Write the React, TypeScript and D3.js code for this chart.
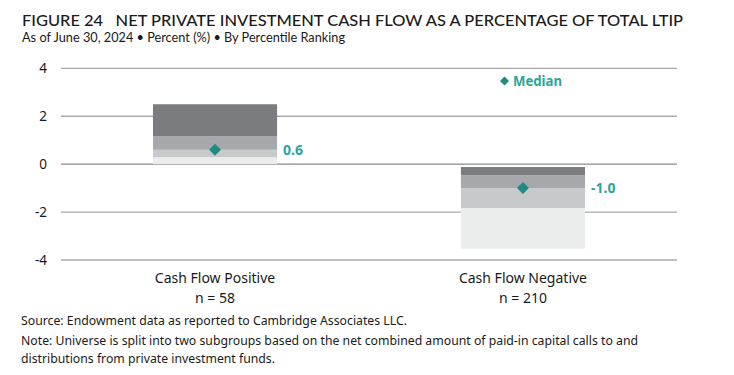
import React from "react";
import * as d3 from "d3";

const categories = ["Cash Flow Positive", "Cash Flow Negative"];
const nLabels = ["n = 58", "n = 210"];
const p5 = [0.0, -3.53];
const p25 = [0.29, -1.83];
const p50 = [0.6, -1.0];
const p75 = [1.17, -0.46];
const p95 = [2.5, -0.12];
const medianLabels = ["0.6", "-1.0"];
const yTicks = [4, 2, 0, -2, -4];

const title = "FIGURE 24\u00a0\u00a0 NET PRIVATE INVESTMENT CASH FLOW AS A PERCENTAGE OF TOTAL LTIP";
const subtitle = "As of June 30, 2024 • Percent (%) • By Percentile Ranking";
const source = "Source: Endowment data as reported to Cambridge Associates LLC.";
const note1 = "Note: Universe is split into two subgroups based on the net combined amount of paid-in capital calls to and";
const note2 = "distributions from private investment funds.";

const W = 734;
const H = 375;

const C_DARK = "#7b7c80";
const C_MID = "#a7a8ab";
const C_LIGHT = "#c8c9cb";
const C_LIGHTEST = "#ebecec";
const TEAL = "#1f8b82";
const TEAL_TEXT = "#2ba59c";

export default function App() {
  const x = d3
    .scaleBand<string>()
    .domain(categories)
    .range([61, 677])
    .paddingInner(0.597)
    .paddingOuter(0.2987);
  const y = d3.scaleLinear().domain([-4, 4]).range([260, 68.3]);
  const bw = x.bandwidth();

  const segs = categories.map((c, i) => [
    { lo: p5[i], hi: p25[i], color: C_LIGHTEST },
    { lo: p25[i], hi: p50[i], color: C_LIGHT },
    { lo: p50[i], hi: p75[i], color: C_MID },
    { lo: p75[i], hi: p95[i], color: C_DARK },
  ]);

  const diamond = (cx: number, cy: number, r: number) =>
    `M${cx},${cy - r}L${cx + r},${cy}L${cx},${cy + r}L${cx - r},${cy}Z`;

  const sans = "'Source Sans Pro', 'Noto Sans', Lato, sans-serif";

  return (
    <svg
      width={W}
      height={H}
      style={{ position: "absolute", left: 0, top: 0, background: "#fff" }}
    >
      <text
        x={22}
        y={25.5}
        fontFamily="Lato, sans-serif"
        fontWeight={500}
        fontSize={16}
        fill="#1a1a1a"
        textLength={661}
        lengthAdjust="spacingAndGlyphs"
      >
        {title}
      </text>
      <text
        x={22}
        y={41.5}
        fontFamily="Lato, sans-serif"
        fontSize={12.5}
        fill="#1a1a1a"
        textLength={323}
        lengthAdjust="spacingAndGlyphs"
      >
        {subtitle}
      </text>

      {yTicks.map((t) => (
        <g key={t}>
          <line
            x1={61}
            x2={677}
            y1={y(t)}
            y2={y(t)}
            stroke={t === 0 ? "#8a8a8a" : "#a9a9a9"}
            strokeWidth={1.3}
          />
          <text
            x={47}
            y={y(t) + 4.5}
            textAnchor="end"
            fontFamily={sans}
            fontSize={13.5}
            fill="#1a1a1a"
          >
            {t}
          </text>
        </g>
      ))}

      {categories.map((c, i) => (
        <g key={c}>
          {segs[i].map((s, j) => (
            <rect
              key={j}
              x={x(c)!}
              width={bw}
              y={y(s.hi)}
              height={y(s.lo) - y(s.hi)}
              fill={s.color}
            />
          ))}
          <path d={diamond(x(c)! + bw / 2, y(p50[i]), 6)} fill={TEAL} />
          <text
            x={x(c)! + bw + 6}
            y={y(p50[i]) + 5}
            fontFamily={sans}
            fontWeight={700}
            fontSize={14}
            fill={TEAL_TEXT}
          >
            {medianLabels[i]}
          </text>
          <text
            x={x(c)! + bw / 2}
            y={283}
            textAnchor="middle"
            fontFamily={sans}
            fontSize={14}
            fill="#1a1a1a"
          >
            {c}
          </text>
          <text
            x={x(c)! + bw / 2}
            y={302.5}
            textAnchor="middle"
            fontFamily={sans}
            fontSize={14}
            fill="#1a1a1a"
          >
            {nLabels[i]}
          </text>
        </g>
      ))}

      <path d={diamond(504.5, 81, 4.5)} fill={TEAL} />
      <text
        x={513}
        y={85.5}
        fontFamily={sans}
        fontWeight={700}
        fontSize={14}
        fill={TEAL_TEXT}
        textLength={49}
        lengthAdjust="spacingAndGlyphs"
      >
        Median
      </text>

      <text x={21} y={325} fontFamily={sans} fontSize={13} fill="#1a1a1a" textLength={386} lengthAdjust="spacingAndGlyphs">
        {source}
      </text>
      <text x={21} y={344.5} fontFamily={sans} fontSize={13} fill="#1a1a1a" textLength={617} lengthAdjust="spacingAndGlyphs">
        {note1}
      </text>
      <text x={21} y={363} fontFamily={sans} fontSize={13} fill="#1a1a1a" textLength={254} lengthAdjust="spacingAndGlyphs">
        {note2}
      </text>
    </svg>
  );
}
